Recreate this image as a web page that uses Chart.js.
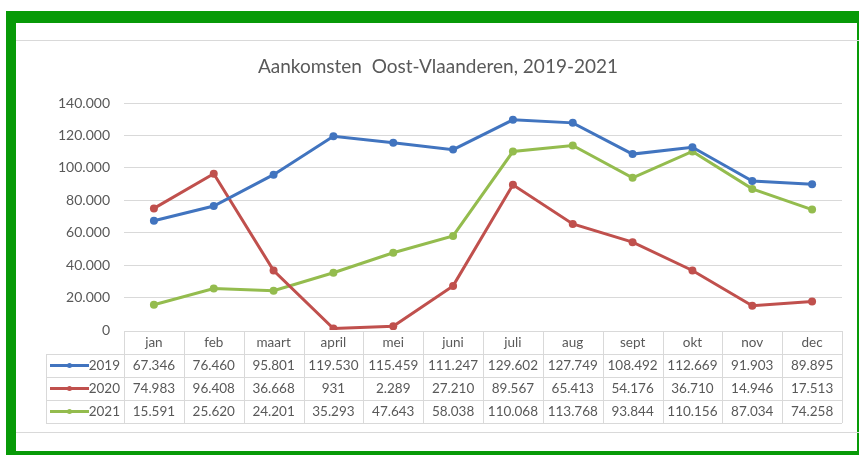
<!DOCTYPE html>
<html>
<head>
<meta charset="utf-8">
<script src="https://cdn.jsdelivr.net/npm/chart.js"></script>
<style>
  html, body { margin: 0; padding: 0; background: #fff; }
  #wrap { position: relative; width: 859px; height: 455px; overflow: hidden; background: #fff; }
  .g { position: absolute; background: #079a07; }
  #box { position: absolute; left: 16px; top: 40px; width: 843px; height: 393px;
         border-top: 1px solid #d9d9d9; border-bottom: 1px solid #d9d9d9; box-sizing: border-box; }
  canvas { position: absolute; left: 0; top: 0; }
</style>
</head>
<body>
<div id="wrap">
  <div class="g" style="left:6px;top:11px;width:853px;height:12px"></div>
  <div class="g" style="left:6px;top:11px;width:10px;height:444px"></div>
  <div class="g" style="left:857px;top:11px;width:2px;height:444px"></div>
  <div class="g" style="left:6px;top:451px;width:853px;height:4px"></div>
  <div id="box"></div>
  <canvas id="chart" width="859" height="455"></canvas>
</div>

<script>
  const months = ["jan", "feb", "maart", "april", "mei", "juni", "juli", "aug", "sept", "okt", "nov", "dec"];
  const y2019 = [67346, 76460, 95801, 119530, 115459, 111247, 129602, 127749, 108492, 112669, 91903, 89895];
  const y2020 = [74983, 96408, 36668, 931, 2289, 27210, 89567, 65413, 54176, 36710, 14946, 17513];
  const y2021 = [15591, 25620, 24201, 35293, 47643, 58038, 110068, 113768, 93844, 110156, 87034, 74258];

  const series = [
    { label: "2019", data: y2019, color: "#4174bf" },
    { label: "2020", data: y2020, color: "#c0504d" },
    { label: "2021", data: y2021, color: "#94bc4e" }
  ];

  const FONT = "Lato, 'Liberation Sans', sans-serif";
  const TEXT = "#595959";

  // Dutch number format: 140000 -> 140.000
  function fmt(v) {
    return String(Math.round(v)).replace(/\B(?=(\d{3})+(?!\d))/g, ".");
  }

  // title + data table drawn under the plot, columns taken from the x scale
  const tablePlugin = {
    id: "dataTable",
    afterDraw(chart) {
      const ctx = chart.ctx;
      const x = chart.scales.x;
      const area = chart.chartArea;
      const colW = (area.right - area.left) / months.length;
      const top = 331, rowH = 23, legendLeft = 46;
      const bottom = top + rowH * (series.length + 1);

      ctx.save();
      // title
      ctx.fillStyle = TEXT;
      ctx.font = "19px " + FONT;
      ctx.textAlign = "center";
      ctx.textBaseline = "middle";
      ctx.fillText("Aankomsten  Oost-Vlaanderen, 2019-2021", 438, 67);

      // grid lines of the table
      ctx.strokeStyle = "#d9d9d9";
      ctx.lineWidth = 1;
      ctx.beginPath();
      ctx.moveTo(area.left, top + 0.5);
      ctx.lineTo(area.right, top + 0.5);
      for (let r = 1; r <= series.length + 1; r++) {
        const yy = Math.round(top + r * rowH) + 0.5;
        ctx.moveTo(legendLeft, yy);
        ctx.lineTo(area.right, yy);
      }
      for (let i = 0; i <= months.length; i++) {
        const xx = Math.round(x.getPixelForValue(i) - colW / 2) + 0.5;
        ctx.moveTo(xx, top);
        ctx.lineTo(xx, bottom);
      }
      ctx.moveTo(legendLeft + 0.5, top + rowH);
      ctx.lineTo(legendLeft + 0.5, bottom);
      ctx.stroke();

      // header
      ctx.fillStyle = TEXT;
      ctx.font = "13.5px " + FONT;
      months.forEach((m, i) => {
        ctx.fillText(m, x.getPixelForValue(i), top + rowH / 2);
      });

      // rows
      series.forEach((s, r) => {
        const cy = top + rowH * (r + 1) + rowH / 2;
        // legend key
        ctx.strokeStyle = s.color;
        ctx.lineWidth = 3;
        ctx.beginPath();
        ctx.moveTo(50, cy);
        ctx.lineTo(89, cy);
        ctx.stroke();
        ctx.fillStyle = s.color;
        ctx.beginPath();
        ctx.arc(69.5, cy, 2.5, 0, Math.PI * 2);
        ctx.fill();
        ctx.fillStyle = TEXT;
        ctx.font = "13.5px " + FONT;
        ctx.textAlign = "right";
        ctx.fillText(s.label, 120, cy);
        ctx.textAlign = "center";
        s.data.forEach((v, i) => {
          ctx.fillText(fmt(v), x.getPixelForValue(i), cy);
        });
      });
      ctx.restore();
    }
  };

  new Chart(document.getElementById("chart"), {
    type: "line",
    data: {
      labels: months,
      datasets: series.map(s => ({
        label: s.label,
        data: s.data,
        borderColor: s.color,
        backgroundColor: s.color,
        borderWidth: 3,
        pointRadius: 4,
        pointHoverRadius: 4,
        pointBorderWidth: 0,
        tension: 0,
        fill: false
      }))
    },
    options: {
      responsive: false,
      animation: false,
      layout: { padding: { left: 16, right: 17, top: 103, bottom: 125 } },
      plugins: {
        legend: { display: false },
        title: { display: false },
        tooltip: { enabled: false }
      },
      scales: {
        x: { type: "category", offset: true, display: false },
        y: {
          min: 0,
          max: 140000,
          afterFit(scale) { scale.width = 108; },
          ticks: {
            stepSize: 20000,
            padding: 14,
            color: TEXT,
            font: { family: FONT, size: 14 },
            callback: v => fmt(v)
          },
          grid: {
            color: ctx => ctx.tick.value === 0 ? "rgba(0,0,0,0)" : "#d9d9d9",
            drawTicks: false
          },
          border: { display: false }
        }
      }
    },
    plugins: [tablePlugin]
  });
</script>
</body>
</html>
